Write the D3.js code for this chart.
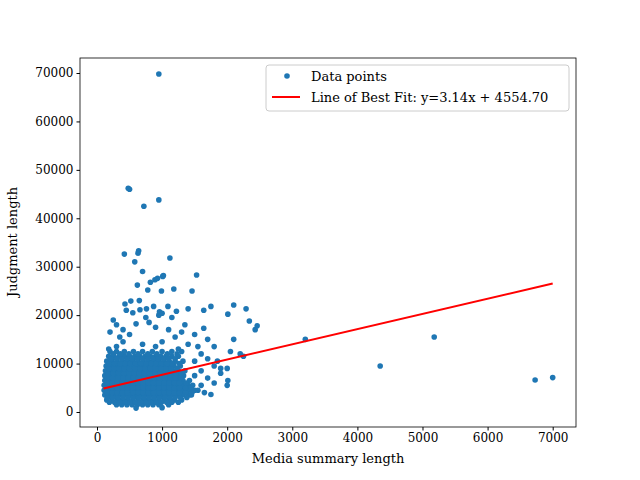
<!DOCTYPE html>
<html><head><meta charset="utf-8">
<script src="https://cdn.jsdelivr.net/npm/d3@7"></script>
<style>body{margin:0;background:#fff}text{font-family:"DejaVu Serif",serif}</style>
</head><body><div id="chart"></div>
<script>
// dense core, rows of [y, x...]
var coreRows = [
  [1500, 300,380,460,540,620,700,780,860,950,1100],
  [2500, 150,230,310,390,470,550,630,710,790,870,950,1030,1110,1190,1300],
  [3500, 120,200,280,360,440,520,600,680,760,840,920,1000,1080,1160,1240,1320,1420],
  [4500, 110,190,270,350,430,510,590,670,750,830,910,990,1070,1150,1230,1310,1400,1500],
  [5500, 110,190,270,350,430,510,590,670,750,830,910,990,1070,1150,1230,1310,1400,1470],
  [6500, 120,200,280,360,440,520,600,680,760,840,920,1000,1080,1160,1240,1320,1420],
  [7500, 120,200,280,360,440,520,600,680,760,840,920,1000,1080,1160,1240,1330],
  [8500, 130,210,290,370,450,530,610,690,770,850,930,1010,1090,1170,1250,1350],
  [9500, 140,220,300,380,460,540,620,700,780,860,940,1020,1100,1180,1280],
  [10500, 150,230,310,390,470,550,630,710,790,870,950,1030,1110,1200,1320],
  [11500, 180,260,340,420,500,580,660,740,820,900,980,1060,1150,1250],
  [12500, 200,300,420,560,700,850,1000,1150,1300]
];
var coreRowsB = [
  [2000, 190,270,350,430,510,590,670,750,830,910,990,1070,1150,1250],
  [3000, 160,240,320,400,480,560,640,720,800,880,960,1040,1120,1200,1280,1380],
  [4000, 150,230,310,390,470,550,630,710,790,870,950,1030,1110,1190,1270,1360,1460],
  [5000, 150,230,310,390,470,550,630,710,790,870,950,1030,1110,1190,1270,1360,1440],
  [6000, 150,230,310,390,470,550,630,710,790,870,950,1030,1110,1190,1270,1370],
  [7000, 160,240,320,400,480,560,640,720,800,880,960,1040,1120,1200,1290],
  [8000, 170,250,330,410,490,570,650,730,810,890,970,1050,1130,1210,1300],
  [9000, 180,260,340,420,500,580,660,740,820,900,980,1060,1140,1230],
  [10000, 190,270,350,430,510,590,670,750,830,910,990,1070,1150,1260],
  [11000, 220,300,380,460,540,620,700,780,860,940,1020,1100,1200],
  [12000, 250,360,490,630,780,920,1080,1230]
];
var spreadPoints = [[250,19000],[300,18000],[400,17000],[200,16500],[600,18200],[800,18500],[900,17500],[1100,17000],[1300,16500],[1500,16000],[1200,15500],[1000,14500],[700,14000],[400,14500],[350,15500],[500,16000],[1400,14000],[1700,15000],[1800,13500],[1600,12000],[1700,11000],[1500,10500],[1800,9500],[1900,9000],[1600,8500],[1700,7000],[1500,7500],[1800,6000],[1600,5500],[1550,4500],[1450,3500],[2050,12500],[2000,9000],[1350,18000],[1150,19500],[950,20000],[750,19500],[550,20500],[650,23000],[450,21000],[300,13500],[900,13500],[1250,13000],[1000,900],[600,800],[180,13000]];
var outlierPoints = [[950,69800],[480,46200],[500,46000],[950,43800],[720,42500],[420,32600],[640,33300],[630,32800],[1120,31800],[580,31000],[700,29000],[890,27300],[930,27600],[1010,28000],[1020,28200],[1530,28300],[620,26200],[820,26800],[780,25200],[1180,25400],[990,25000],[1460,25000],[430,22300],[520,22900],[660,21100],[760,21300],[870,21800],[960,20700],[1000,20400],[1090,21800],[1220,20800],[1400,21300],[1640,21000],[1750,21800],[2100,22100],[2290,21300],[2010,20200],[2100,15000],[2430,17000],[2460,17800],[2340,18800],[1640,17300],[3200,15000],[4350,9500],[5180,15500],[6730,6600],[7000,7100],[2200,12000],[2250,11500],[2010,6500],[2000,5500],[1650,4000],[1750,3600],[1900,8000],[1850,10500],[1550,13500]];
var xTicks = [0,1000,2000,3000,4000,5000,6000,7000];
var yTicks = [0,10000,20000,30000,40000,50000,60000,70000];
var slope = 3.14, intercept = 4554.70, fitRange = [100, 7000];

var points = [];
coreRows.concat(coreRowsB).forEach(function(r){ r.slice(1).forEach(function(x){ points.push([x, r[0]]); }); });
points = points.concat(spreadPoints, outlierPoints);

var svg = d3.select('#chart').append('svg').attr('width',640).attr('height',480);
var x = d3.scaleLinear().domain([-261, 7358]).range([80, 576]);
var y = d3.scaleLinear().domain([-3100, 73100]).range([427, 58]);

svg.selectAll('circle').data(points).enter().append('circle')
  .attr('cx', function(d){ return x(d[0]); })
  .attr('cy', function(d){ return y(d[1]); })
  .attr('r', 2.8).attr('fill', '#1f77b4');

svg.append('line')
  .attr('x1', x(fitRange[0])).attr('y1', y(slope*fitRange[0]+intercept))
  .attr('x2', x(fitRange[1])).attr('y2', y(slope*fitRange[1]+intercept))
  .attr('stroke', 'red').attr('stroke-width', 2);

var xa = svg.append('g').attr('transform','translate(0,427)')
  .call(d3.axisBottom(x).tickValues(xTicks).tickFormat(d3.format('d')).tickSizeOuter(0).tickSize(3.5));
var ya = svg.append('g').attr('transform','translate(80,0)')
  .call(d3.axisLeft(y).tickValues(yTicks).tickFormat(d3.format('d')).tickSizeOuter(0).tickSize(3.5));
[xa, ya].forEach(function(a){
  a.selectAll('text').attr('font-size', 12).attr('font-family','DejaVu Serif').attr('fill','#000');
  a.select('.domain').remove();
});
svg.append('rect').attr('x',80).attr('y',58).attr('width',496).attr('height',369)
  .attr('fill','none').attr('stroke','#000').attr('stroke-width',0.8);

svg.append('text').attr('x',328).attr('y',463).attr('text-anchor','middle').attr('font-size',13).text('Media summary length');
svg.append('text').attr('transform','translate(17,242) rotate(-90)').attr('text-anchor','middle').attr('font-size',13).text('Judgment length');

var lg = svg.append('g');
lg.append('rect').attr('x',266).attr('y',65).attr('width',303).attr('height',46).attr('rx',3)
  .attr('fill','#fff').attr('fill-opacity',0.8).attr('stroke','#ccc');
lg.append('circle').attr('cx',287).attr('cy',76).attr('r',2.8).attr('fill','#1f77b4');
lg.append('line').attr('x1',272).attr('x2',300).attr('y1',97).attr('y2',97).attr('stroke','red').attr('stroke-width',2);
lg.append('text').attr('x',311).attr('y',81).attr('font-size',13).text('Data points');
lg.append('text').attr('x',311).attr('y',102).attr('font-size',13).text('Line of Best Fit: y=3.14x + 4554.70');
</script></body></html>
